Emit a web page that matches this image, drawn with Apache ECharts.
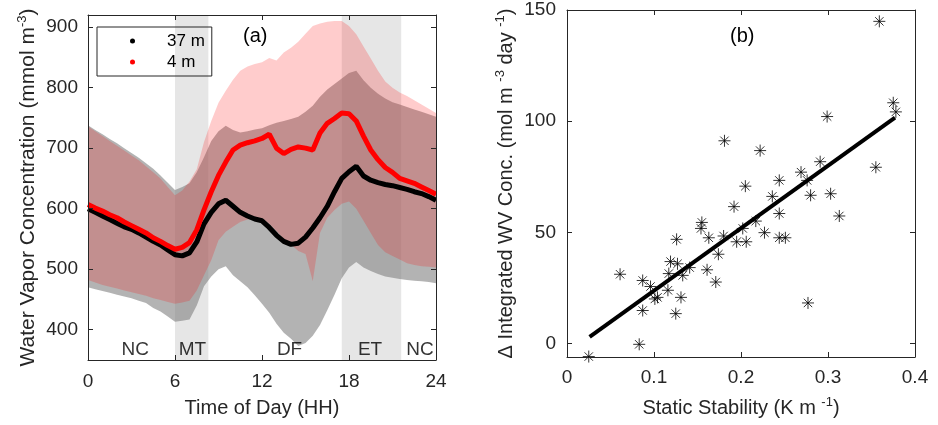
<!DOCTYPE html>
<html>
<head>
<meta charset="utf-8">
<script src="https://cdn.jsdelivr.net/npm/echarts@6/dist/echarts.min.js"></script>
<style>
  html, body { margin: 0; padding: 0; background: #fff; }
  #chart { width: 938px; height: 425px; }
</style>
</head>
<body>
<div id="chart"></div>
<script>
// ---- panel (a): diurnal water vapour, 37 m and 4 m ----
const hours = [0, 0.5, 1, 1.5, 2, 2.5, 3, 3.5, 4, 4.5, 5, 5.5, 6, 6.5, 7, 7.5, 8, 8.5, 9, 9.5, 10, 10.5, 11, 11.5,
  12, 12.5, 13, 13.5, 14, 14.5, 15, 15.5, 16, 16.5, 17, 17.5, 18, 18.5, 19, 19.5, 20, 20.5, 21, 21.5, 22, 22.5, 23, 23.5, 24]
const wv37 = [600, 594, 588, 582, 576, 570, 566, 560, 553, 546, 540, 532, 524, 522, 527, 545, 575, 594, 608, 614, 604, 594, 588, 583,
  580, 569, 556, 546, 541, 543, 553, 568, 585, 604, 628, 650, 661, 670, 654, 647, 643, 640, 638, 635, 632, 628, 625, 620, 614]
const wv4 = [607, 601, 596, 590, 585, 578, 572, 566, 560, 552, 546, 539, 533, 536, 544, 565, 598, 628, 655, 677, 697, 705, 709, 712,
  716, 723, 700, 691, 698, 702, 700, 697, 725, 741, 749, 758, 757, 745, 720, 697, 681, 668, 660, 650, 646, 642, 636, 630, 624]
// spread bands (upper / lower edges)
const up37 = [738, 730, 723, 715, 708, 700, 692, 684, 675, 666, 655, 643, 631, 636, 642, 660, 685, 712, 728, 737, 730, 726, 728, 731,
  733, 738, 742, 745, 748, 752, 760, 770, 785, 797, 806, 815, 824, 828, 812, 800, 790, 782, 776, 772, 768, 764, 760, 756, 752]
const lo37 = [470, 467, 464, 461, 458, 455, 452, 448, 444, 436, 430, 422, 413, 415, 417, 440, 472, 488, 500, 505, 490, 480, 470, 457,
  443, 428, 410, 395, 385, 373, 378, 390, 408, 432, 458, 485, 503, 512, 503, 497, 492, 488, 486, 484, 482, 481, 480, 479, 477]
const up4 = [736, 728, 720, 712, 704, 696, 688, 680, 670, 660, 650, 636, 622, 630, 645, 665, 710, 745, 775, 795, 813, 828, 835, 839,
  842, 849, 845, 858, 866, 876, 889, 902, 906, 909, 910, 910, 902, 888, 868, 848, 828, 810, 800, 792, 786, 779, 772, 765, 758]
const lo4 = [482, 478, 474, 471, 468, 465, 462, 459, 456, 452, 449, 446, 443, 445, 448, 465, 490, 515, 548, 562, 570, 578, 582, 584,
  584, 575, 563, 550, 541, 530, 525, 480, 560, 585, 598, 608, 612, 600, 580, 560, 540, 528, 522, 516, 510, 507, 505, 504, 503]

const shadeStart = [6, 17.5]
const shadeEnd = [8.3, 21.6]
const phaseNames = ['NC', 'MT', 'DF', 'ET', 'NC']
const phaseHours = [3.25, 7.2, 13.9, 19.45, 22.9]
const phaseLabelY = 367

const yTicksA = [400, 500, 600, 700, 800, 900]

// ---- panel (b): static stability vs integrated WV change ----
const stability = [0.025, 0.061, 0.083, 0.087, 0.087, 0.096, 0.101, 0.104, 0.116, 0.117, 0.119, 0.125, 0.126, 0.127, 0.131, 0.133,
  0.141, 0.155, 0.154, 0.161, 0.163, 0.171, 0.174, 0.180, 0.181, 0.192, 0.195, 0.202, 0.205, 0.206, 0.217, 0.222, 0.227, 0.236,
  0.244, 0.244, 0.244, 0.251, 0.269, 0.276, 0.277, 0.280, 0.291, 0.299, 0.303, 0.313, 0.355, 0.359, 0.375, 0.378]
const wvChange = [-5.8, 31.2, -0.3, 28.4, 14.9, 25.7, 20.1, 20.8, 24.0, 31.5, 36.9, 13.5, 46.9, 35.9, 20.8, 30.7,
  34.2, 54.5, 51.8, 33.2, 47.6, 27.7, 40.2, 48.4, 91.2, 61.6, 45.8, 51.8, 70.8, 45.8, 55.1, 86.8, 49.9, 66.2,
  73.4, 58.5, 47.6, 47.6, 77.1, 73.4, 18.3, 66.7, 81.8, 102.1, 67.4, 57.4, 79.3, 144.9, 108.3, 104.2]
const fitX = [0.026, 0.377]
const fitY = [3.0, 101.6]

const xTicksB = [0, 0.1, 0.2, 0.3, 0.4]
const yTicksB = [0, 50, 100, 150]

const FONT = "'Liberation Sans', Arial, Helvetica, sans-serif"
const AXIS = '#262626'

const chart = echarts.init(document.getElementById('chart'))

function boxAxis(extra) {
  return Object.assign({
    type: 'value',
    z: 10,
    splitLine: { show: false },
    axisLine: { show: true, onZero: false, lineStyle: { color: AXIS, width: 1 } },
    axisTick: { show: true, inside: true, length: 5, lineStyle: { color: AXIS } },
    axisLabel: { show: true, color: AXIS, fontSize: 19, fontFamily: FONT }
  }, extra)
}

function bandSeries(lo, up, color) {
  return {
    type: 'custom',
    xAxisIndex: 0,
    yAxisIndex: 0,
    silent: true,
    z: 2,
    data: hours.map((h, i) => [h, lo[i], up[i]]),
    encode: { x: 0, y: [1, 2] },
    renderItem: function (params, api) {
      if (params.dataIndex !== 0) return
      const pts = []
      for (let i = 0; i < hours.length; i++) pts.push(api.coord([hours[i], up[i]]))
      for (let i = hours.length - 1; i >= 0; i--) pts.push(api.coord([hours[i], lo[i]]))
      return { type: 'polygon', shape: { points: pts }, style: { fill: color } }
    }
  }
}

function nameStyle(size) {
  return {
    fontSize: size, color: AXIS, fontFamily: FONT, lineHeight: size + 4,
    rich: { sup: { fontSize: 13, fontFamily: FONT, color: AXIS, verticalAlign: 'top', lineHeight: 13 } }
  }
}

const asterisk = 'path://M0,5L10,5M5,0L5,10M1.5,1.5L8.5,8.5M8.5,1.5L1.5,8.5'

chart.setOption({
  animation: false,
  textStyle: { fontFamily: FONT },
  grid: [
    { left: 88, top: 15, width: 348, height: 348 },
    { left: 567, top: 10, width: 348, height: 349 }
  ],
  legend: {
    data: ['37 m', '4 m'],
    orient: 'vertical',
    left: 97,
    top: 27,
    icon: 'circle',
    itemWidth: 5,
    itemHeight: 5,
    itemGap: 1,
    padding: [4, 7, 4, 33],
    borderColor: '#262626',
    borderWidth: 1,
    textStyle: { fontSize: 17, color: '#000', lineHeight: 20, fontFamily: FONT, padding: [0, 0, 0, 27] }
  },
  graphic: [
    { type: 'text', left: 243, top: 26, style: { text: '(a)', fontSize: 20, fill: '#000', fontFamily: FONT } },
    { type: 'text', left: 730, top: 26, style: { text: '(b)', fontSize: 20, fill: '#000', fontFamily: FONT } }
  ],
  xAxis: [
    boxAxis({ gridIndex: 0, position: 'bottom', min: 0, max: 24, interval: 6,
      axisLabel: { color: AXIS, fontSize: 19, fontFamily: FONT, margin: 12 },
      name: 'Time of Day (HH)', nameLocation: 'middle', nameGap: 36, nameTextStyle: nameStyle(20) }),
    boxAxis({ gridIndex: 0, position: 'top', min: 0, max: 24, interval: 6, axisLabel: { show: false } }),
    boxAxis({ gridIndex: 1, position: 'bottom', min: 0, max: 0.4,
      axisTick: { show: true, inside: true, length: 5, lineStyle: { color: AXIS }, customValues: xTicksB },
      axisLabel: { color: AXIS, fontSize: 19, fontFamily: FONT, margin: 11, customValues: xTicksB },
      name: 'Static Stability (K m {sup|-1})', nameLocation: 'middle', nameGap: 39, nameTextStyle: nameStyle(20) }),
    boxAxis({ gridIndex: 1, position: 'top', min: 0, max: 0.4,
      axisTick: { show: true, inside: true, length: 5, lineStyle: { color: AXIS }, customValues: xTicksB },
      axisLabel: { show: false } })
  ],
  yAxis: [
    boxAxis({ gridIndex: 0, position: 'left', min: 350, max: 920,
      axisTick: { show: true, inside: true, length: 5, lineStyle: { color: AXIS }, customValues: yTicksA },
      axisLabel: { color: AXIS, fontSize: 19, fontFamily: FONT, margin: 10, customValues: yTicksA },
      name: 'Water Vapor Concentration (mmol m{sup|-3})', nameLocation: 'middle', nameGap: 47, nameTextStyle: nameStyle(21) }),
    boxAxis({ gridIndex: 0, position: 'right', min: 350, max: 920,
      axisTick: { show: true, inside: true, length: 5, lineStyle: { color: AXIS }, customValues: yTicksA },
      axisLabel: { show: false } }),
    boxAxis({ gridIndex: 1, position: 'left', min: -6, max: 150,
      axisTick: { show: true, inside: true, length: 5, lineStyle: { color: AXIS }, customValues: yTicksB },
      axisLabel: { color: AXIS, fontSize: 19, fontFamily: FONT, margin: 11, customValues: yTicksB },
      name: '\u0394 Integrated WV Conc. (mol m {sup|-3} day {sup|-1})', nameLocation: 'middle', nameGap: 49, nameTextStyle: nameStyle(20) }),
    boxAxis({ gridIndex: 1, position: 'right', min: -6, max: 150,
      axisTick: { show: true, inside: true, length: 5, lineStyle: { color: AXIS }, customValues: yTicksB },
      axisLabel: { show: false } })
  ],
  series: [
    bandSeries(lo37, up37, 'rgba(128,128,128,0.6)'),
    bandSeries(lo4, up4, 'rgba(255,0,0,0.2)'),
    {
      name: '37 m',
      type: 'line',
      xAxisIndex: 0,
      yAxisIndex: 0,
      z: 4,
      showSymbol: false,
      silent: true,
      data: hours.map((h, i) => [h, wv37[i]]),
      itemStyle: { color: '#000' },
      lineStyle: { color: '#000', width: 5 },
      markArea: {
        silent: true,
        z: 1,
        itemStyle: { color: '#e6e6e6' },
        data: shadeStart.map((s, i) => [{ xAxis: s }, { xAxis: shadeEnd[i] }])
      }
    },
    {
      name: '4 m',
      type: 'line',
      xAxisIndex: 0,
      yAxisIndex: 0,
      z: 5,
      showSymbol: false,
      silent: true,
      data: hours.map((h, i) => [h, wv4[i]]),
      itemStyle: { color: '#ff0000' },
      lineStyle: { color: '#ff0000', width: 5 }
    },
    {
      type: 'scatter',
      xAxisIndex: 0,
      yAxisIndex: 0,
      z: 6,
      silent: true,
      symbolSize: 1,
      itemStyle: { color: 'transparent' },
      data: phaseHours.map((h, i) => ({ name: phaseNames[i], value: [h, phaseLabelY] })),
      label: { show: true, position: 'inside', formatter: '{b}', fontSize: 19, color: '#000', fontFamily: FONT }
    },
    {
      type: 'scatter',
      xAxisIndex: 2,
      yAxisIndex: 2,
      z: 3,
      silent: true,
      symbol: asterisk,
      symbolSize: 12,
      itemStyle: { color: 'transparent', borderColor: '#000', borderWidth: 1 },
      data: stability.map((x, i) => [x, wvChange[i]])
    },
    {
      type: 'line',
      xAxisIndex: 2,
      yAxisIndex: 2,
      z: 4,
      silent: true,
      showSymbol: false,
      data: fitX.map((x, i) => [x, fitY[i]]),
      lineStyle: { color: '#000', width: 4 }
    }
  ]
})
</script>
</body>
</html>
